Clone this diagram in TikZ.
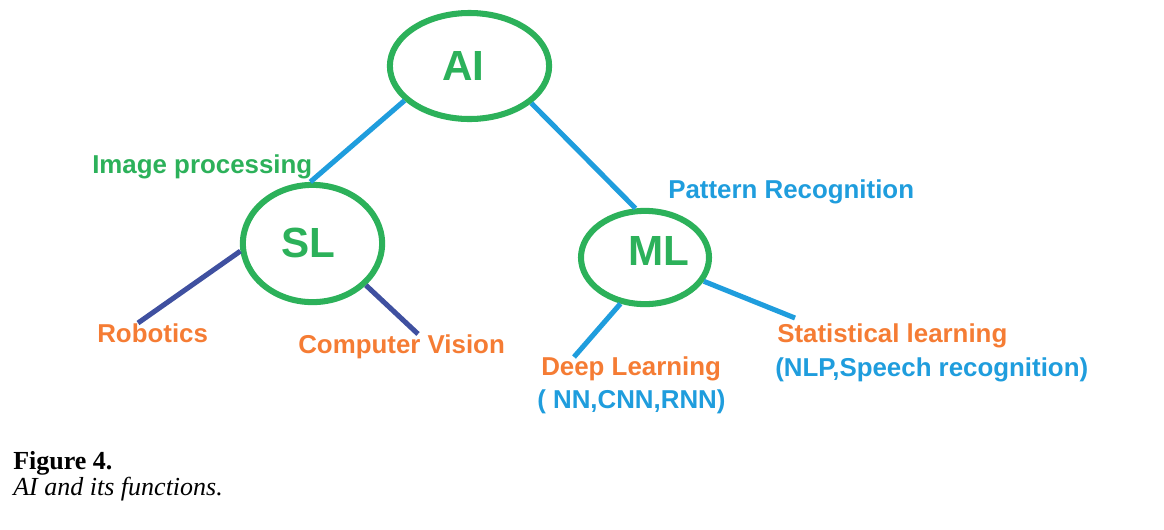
\documentclass[tikz,border=0pt]{standalone}
\usepackage{fontspec}
\setmainfont{Liberation Sans}
\newfontfamily\capfont{Liberation Serif}
\usetikzlibrary{shapes.geometric, positioning}

\definecolor{topicgreen}{RGB}{44,177,90}
\definecolor{linkblue}{RGB}{31,157,221}
\definecolor{linkdark}{RGB}{63,80,160}
\definecolor{fieldorange}{RGB}{245,124,52}

\begin{document}
\begin{tikzpicture}[x=0.025cm, y=-0.025cm]

% Styles
\tikzstyle{topic} = [ellipse, draw=topicgreen, line width=4.3pt, inner sep=0pt]
\tikzstyle{topictext} = [text=topicgreen, inner sep=0pt, font=\fontsize{30}{36}\selectfont\bfseries]
\tikzstyle{field} = [anchor=base west, inner sep=0pt, font=\fontsize{18.4}{22}\selectfont\bfseries]
\tikzstyle{branch} = [line width=3.6pt, draw=linkblue]
\tikzstyle{subbranch} = [line width=3.6pt, draw=linkdark]

\useasboundingbox (0,0) rectangle (1164,529);

% --- Nodes ---

% 1. AI at the top
\node (ai) [topic, minimum width=3.98cm, minimum height=2.65cm] at (469.5,66) {};
\node (ai_text) [topictext] at (463.5,66) {AI};

% 2. SL and ML
\node (sl) [topic, minimum width=3.48cm, minimum height=2.93cm] at (312.5,243.5) {};
\node (sl_text) [topictext] at (308.5,243) {SL};
\node (ml) [topic, minimum width=3.2cm, minimum height=2.33cm] at (645,257.5) {};
\node (ml_text) [topictext] at (659,251) {ML};

% 3. Labels on the AI branches
\node (img_proc) [field, text=topicgreen] at (92,173) {Image processing};
\node (pattern) [field, text=linkblue] at (668,198) {Pattern Recognition};

% 4. Fields under SL
\node (robotics) [field, text=fieldorange] at (97,342) {Robotics};
\node (comp_vis) [field, text=fieldorange] at (298,353) {Computer Vision};

% 5. Fields under ML
\node (deep) [field, text=fieldorange] at (541,375) {Deep Learning};
\node (deep_ex) [field, text=linkblue] at (537,408) {( NN,CNN,RNN)};
\node (stat) [field, text=fieldorange] at (777,342) {Statistical learning};
\node (stat_ex) [field, text=linkblue] at (775,376) {(NLP,Speech recognition)};

% Free ends of the lower branches
\coordinate (robotics_end) at (138,323);
\coordinate (comp_vis_end) at (418,334);
\coordinate (deep_end) at (574,357);
\coordinate (stat_end) at (795,318);

% --- Connectors ---
\draw[branch] (ai.208.5) -- (sl.92);
\draw[branch] (ai.329.4) -- (ml.101);
\draw[subbranch] (sl.186) -- (robotics_end);
\draw[subbranch] (sl.322) -- (comp_vis_end);
\draw[branch] (ml.242) -- (deep_end);
\draw[branch] (ml.338) -- (stat_end);

% --- Caption ---
\node (fig_num) [anchor=base west, inner sep=0pt, font=\capfont\fontsize{18.5}{22}\selectfont\bfseries] at (13,469) {Figure 4.};
\node (fig_cap) [anchor=base west, inner sep=0pt, font=\capfont\fontsize{18.5}{22}\selectfont\itshape] at (13,495) {AI and its functions.};

\end{tikzpicture}
\end{document}
